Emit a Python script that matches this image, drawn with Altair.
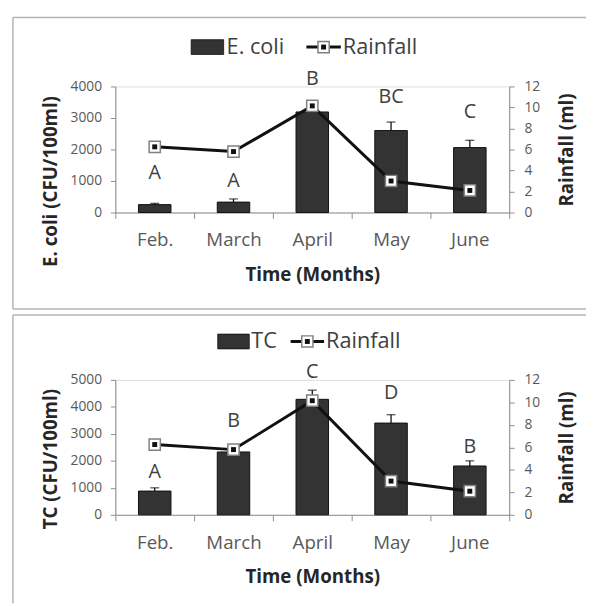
import altair as alt
import pandas as pd

# ---------------- data ----------------
months = ["Feb.", "March", "April", "May", "June"]
rainfall = [6.25, 5.8, 10.15, 3.0, 2.1]

ecoli = [250, 330, 3190, 2600, 2060]
ecoli_err = [40, 100, 60, 270, 230]
ecoli_letters = ["A", "A", "B", "BC", "C"]
ecoli_letter_y = [1250, 1000, 4220, 3650, 3200]

tc = [880, 2330, 4280, 3400, 1810]
tc_err = [120, 60, 340, 310, 190]
tc_letters = ["A", "B", "C", "D", "B"]
tc_letter_y = [1600, 3490, 5280, 4520, 2520]

FONT = "Open Sans"
GRAY_AX = "#8c8c8c"
LABEL_C = "#595959"
TITLE_C = "#262626"
BAR_C = "#333333"


def panel(series, ylabel, values, errs, letters, letter_y, ymax, ystep, height,
          ytitle_y, leg, border_top, border_bottom):
    df = pd.DataFrame({
        "month": months,
        "value": values,
        "top": [v + e for v, e in zip(values, errs)],
        "letter": letters,
        "ly": letter_y,
        "rain": rainfall,
    })

    x = alt.X("month:N", sort=months,
              scale=alt.Scale(paddingInner=0, paddingOuter=0),
              axis=alt.Axis(title="Time (Months)", labelAngle=0, tickBand="extent",
                            domainColor=GRAY_AX, tickColor=GRAY_AX, tickSize=6,
                            labelFont=FONT, labelFontSize=19, labelColor=LABEL_C,
                            labelPadding=22, labelBaseline="middle",
                            titleFont=FONT, titleFontSize=19, titleFontWeight="bold",
                            titleColor=TITLE_C, titleY=63, titleBaseline="middle"))

    yscale = alt.Scale(domain=[0, ymax], nice=False, zero=True)
    left_axis = alt.Axis(title=ylabel, orient="left", format="d",
                         values=list(range(0, ymax + 1, ystep)), grid=False,
                         labelOverlap=False, labelFlush=False,
                         domainColor=GRAY_AX, tickColor=GRAY_AX, tickSize=5,
                         labelFont=FONT, labelFontSize=14, labelColor=LABEL_C,
                         labelPadding=9,
                         titleFont=FONT, titleFontSize=19, titleFontWeight="bold",
                         titleColor=TITLE_C, titleAngle=270, titleX=-66,
                         titleY=ytitle_y, titleBaseline="middle", titleAlign="center")

    bars = alt.Chart(df).mark_bar(size=33, color=BAR_C, stroke="#111111",
                                  strokeWidth=1).encode(
        x=x, y=alt.Y("value:Q", scale=yscale, axis=left_axis))
    err = alt.Chart(df).mark_rule(color="#111111", strokeWidth=1.3).encode(
        x=x, y=alt.Y("value:Q", scale=yscale, axis=left_axis), y2="top:Q")
    cap = alt.Chart(df).mark_tick(color="#111111", thickness=1.3, size=9).encode(
        x=x, y=alt.Y("top:Q", scale=yscale, axis=left_axis))
    lett = alt.Chart(df).mark_text(font=FONT, fontSize=20, color="#404040",
                                   baseline="middle").encode(
        x=x, y=alt.Y("ly:Q", scale=yscale, axis=left_axis), text="letter:N")
    left = alt.layer(bars, err, cap, lett)

    rscale = alt.Scale(domain=[0, 12], nice=False)
    right_axis = alt.Axis(title="Rainfall (ml)", orient="right",
                          values=list(range(0, 13, 2)), grid=False,
                          labelOverlap=False, labelFlush=False,
                          domainColor=GRAY_AX, tickColor=GRAY_AX, tickSize=5,
                          labelFont=FONT, labelFontSize=14, labelColor=LABEL_C,
                          labelPadding=10,
                          titleFont=FONT, titleFontSize=19, titleFontWeight="bold",
                          titleColor=TITLE_C, titleAngle=270, titleX=58,
                          titleBaseline="middle", titleAlign="center")
    yright = alt.Y("rain:Q", scale=rscale, axis=right_axis)
    line = alt.Chart(df).mark_line(color="#111111", strokeWidth=3).encode(x=x, y=yright)
    mk_out = alt.Chart(df).mark_point(shape="square", filled=True, fill="white",
                                      stroke="#808080", strokeWidth=1.5, size=130,
                                      opacity=1).encode(x=x, y=yright)
    mk_in = alt.Chart(df).mark_point(shape="square", filled=True, color="#111111",
                                     size=25, opacity=1).encode(x=x, y=yright)
    right = alt.layer(line, mk_out, mk_in)

    one = pd.DataFrame({"k": [0]})
    ly = leg["y"]
    mx = (leg["l0"] + leg["l1"]) / 2
    leg_layers = [
        alt.Chart(one).mark_rect(color=BAR_C, stroke="#111111", strokeWidth=0.8).encode(
            x=alt.value(leg["sw0"]), x2=alt.value(leg["sw1"]),
            y=alt.value(ly - 7.5), y2=alt.value(ly + 7.5)),
        alt.Chart(one).mark_text(text=series, font=FONT, fontSize=22, color="#404040",
                                 align="left", baseline="middle").encode(
            x=alt.value(leg["t1"]), y=alt.value(ly)),
        alt.Chart(one).mark_rule(color="#111111", strokeWidth=3).encode(
            x=alt.value(leg["l0"]), x2=alt.value(leg["l1"]), y=alt.value(ly)),
        alt.Chart(one).mark_point(shape="square", filled=True, fill="white",
                                  stroke="#808080", strokeWidth=1.5, size=130,
                                  opacity=1).encode(x=alt.value(mx), y=alt.value(ly)),
        alt.Chart(one).mark_point(shape="square", filled=True, color="#111111",
                                  size=25, opacity=1).encode(x=alt.value(mx), y=alt.value(ly)),
        alt.Chart(one).mark_text(text="Rainfall", font=FONT, fontSize=22, color="#404040",
                                 align="left", baseline="middle").encode(
            x=alt.value(leg["t2"]), y=alt.value(ly)),
    ]

    bcol = "#b4b4b4"
    border = [
        alt.Chart(one).mark_rule(color=bcol, strokeWidth=1.5).encode(
            x=alt.value(-104), x2=alt.value(478), y=alt.value(border_top)),
        alt.Chart(one).mark_rule(color=bcol, strokeWidth=1.5).encode(
            x=alt.value(-104), y=alt.value(border_top), y2=alt.value(border_bottom)),
    ]
    if series != "TC":
        border.append(alt.Chart(one).mark_rule(color=bcol, strokeWidth=1.5).encode(
            x=alt.value(-104), x2=alt.value(478), y=alt.value(border_bottom)))

    main = alt.layer(left, right).resolve_scale(y="independent")
    return alt.layer(main, *leg_layers, *border).properties(width=400, height=height)


top = panel("E. coli", "E. coli (CFU/100ml)", ecoli, ecoli_err, ecoli_letters,
            ecoli_letter_y, 4000, 1000, 128, 96,
            {"y": -40, "sw0": 77, "sw1": 110, "t1": 113, "l0": 194, "l1": 229, "t2": 231},
            -70, 226)
bottom = panel("TC", "TC (CFU/100ml)", tc, tc_err, tc_letters,
               tc_letter_y, 5000, 1000, 137, 80,
               {"y": -39, "sw0": 104, "sw1": 136, "t1": 138, "l0": 178, "l1": 212, "t2": 214},
               -66, 227)

chart = alt.vconcat(top, bottom, spacing=2).properties(
    padding={"left": 3, "top": 3, "right": 0, "bottom": 0}
).configure_view(stroke=None).configure(background="white")

chart.save("out.html", embed_options={"renderer": "svg", "actions": False})
